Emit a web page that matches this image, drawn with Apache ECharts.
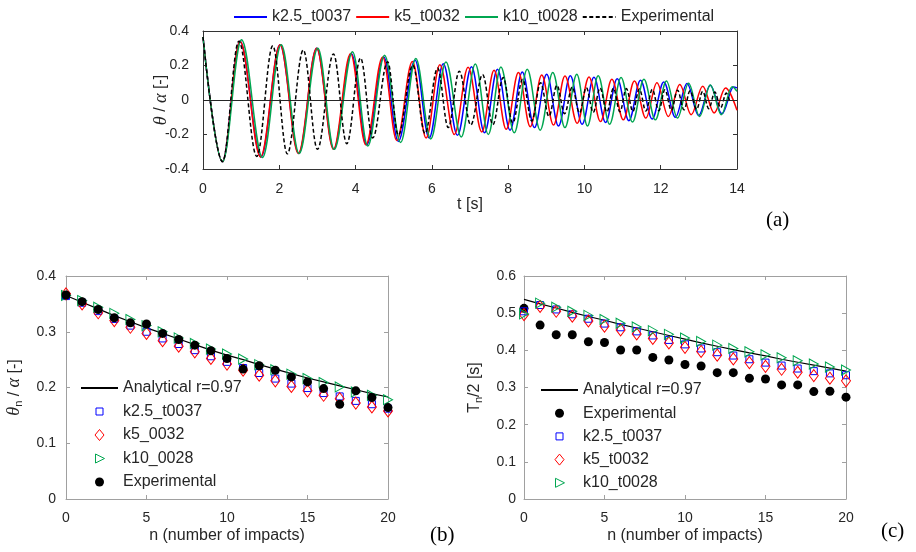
<!DOCTYPE html>
<html><head><meta charset="utf-8">
<script src="https://cdn.jsdelivr.net/npm/echarts@6/dist/echarts.min.js"></script>
<style>html,body{margin:0;padding:0;background:#fff}#c{width:916px;height:552px}</style>
</head><body><div id="c"></div>
<script>
// ---------- Panel (a): extrema read from the time histories ----------
const tTicks = [0, 14, 2];
const expT = [0,0.51,0.94,1.41,1.83,2.21,2.63,3.00,3.42,3.77,4.13,4.45,4.84,5.12,5.50,5.82,6.15,6.43,6.72,7.02,7.33,7.60,7.87,8.12,8.38,8.62,8.85,9.07,9.28,9.48,9.68,9.87,10.05,10.23,10.41,10.59,10.76,10.93,11.10,11.27,11.44,11.61,11.78,11.95,12.11,12.28,12.44,12.61,12.77,12.94,13.10,13.26,13.42,13.57,13.72,13.80];
const expV = [0.365,-0.357,0.341,-0.327,0.314,-0.312,0.29,-0.286,0.267,-0.253,0.243,-0.22,0.222,-0.204,0.202,-0.194,0.185,-0.16,0.167,-0.145,0.148,-0.143,0.13,-0.133,0.12,-0.122,0.10,-0.095,0.085,-0.08,0.075,-0.075,0.072,-0.072,0.07,-0.07,0.068,-0.068,0.066,-0.066,0.064,-0.064,0.062,-0.062,0.06,-0.06,0.057,-0.057,0.054,-0.054,0.05,-0.05,0.046,-0.045,0.04,0.0];
const k25T = [0,0.51,0.97,1.52,2.02,2.51,2.98,3.43,3.89,4.29,4.74,5.12,5.56,5.93,6.30,6.67,7.04,7.38,7.72,8.05,8.37,8.69,9.01,9.32,9.63,9.94,10.25,10.555,10.86,11.165,11.47,11.775,12.08,12.385,12.69,12.995,13.30,13.605,13.91,14.0];
const k25V = [0.365,-0.357,0.34,-0.33,0.32,-0.31,0.30,-0.285,0.27,-0.26,0.25,-0.24,0.23,-0.22,0.21,-0.205,0.193,-0.19,0.178,-0.175,0.163,-0.16,0.15,-0.15,0.14,-0.14,0.132,-0.13,0.123,-0.12,0.115,-0.11,0.105,-0.1,0.095,-0.09,0.085,-0.08,0.075,0.07];
const k5T = [0,0.51,0.97,1.51,2.02,2.50,2.98,3.42,3.87,4.27,4.71,5.08,5.49,5.85,6.21,6.59,6.95,7.31,7.63,7.95,8.27,8.58,8.88,9.19,9.49,9.81,10.12,10.42,10.72,11.02,11.31,11.61,11.90,12.20,12.50,12.80,13.10,13.40,13.70,14.0];
const k5V = [0.365,-0.357,0.34,-0.33,0.32,-0.31,0.30,-0.285,0.27,-0.26,0.25,-0.235,0.223,-0.22,0.204,-0.20,0.19,-0.185,0.172,-0.17,0.159,-0.155,0.145,-0.145,0.139,-0.135,0.133,-0.125,0.12,-0.115,0.11,-0.105,0.10,-0.095,0.09,-0.085,0.08,-0.075,0.07,-0.06];
const k10T = [0,0.51,1.01,1.56,2.05,2.52,3.01,3.44,3.92,4.32,4.76,5.18,5.58,5.97,6.37,6.77,7.14,7.48,7.81,8.16,8.50,8.84,9.17,9.49,9.80,10.08,10.36,10.66,10.96,11.26,11.56,11.86,12.15,12.44,12.73,13.02,13.30,13.59,13.87,14.0];
const k10V = [0.365,-0.357,0.35,-0.333,0.32,-0.31,0.30,-0.286,0.28,-0.267,0.26,-0.247,0.241,-0.226,0.221,-0.214,0.208,-0.2,0.192,-0.19,0.178,-0.175,0.159,-0.16,0.149,-0.15,0.14,-0.14,0.13,-0.128,0.12,-0.115,0.11,-0.105,0.097,-0.095,0.087,-0.085,0.077,0.05];

// ---------- Panels (b) and (c): values per impact n ----------
const nIdx = [0,1,2,3,4,5,6,7,8,9,10,11,12,13,14,15,16,17,18,19,20];
const bAnalytical = [0.365,0.353,0.341,0.329,0.318,0.307,0.297,0.287,0.277,0.267,0.258,0.250,0.241,0.233,0.225,0.217,0.210,0.203,0.196,0.189,0.183];
const bK25 = [0.364,0.352,0.337,0.323,0.311,0.300,0.288,0.278,0.267,0.256,0.246,0.235,0.226,0.216,0.207,0.199,0.190,0.184,0.176,0.170,0.162];
const bK5  = [0.368,0.350,0.334,0.320,0.308,0.297,0.284,0.274,0.264,0.252,0.242,0.231,0.222,0.212,0.202,0.194,0.186,0.180,0.172,0.165,0.158];
const bK10 = [0.365,0.356,0.344,0.333,0.322,0.311,0.300,0.289,0.279,0.269,0.260,0.251,0.241,0.232,0.224,0.216,0.209,0.201,0.192,0.186,0.178];
const bExp = [0.366,0.354,0.340,0.325,0.316,0.314,0.297,0.286,0.276,0.266,0.252,0.233,0.239,0.231,0.219,0.210,0.198,0.170,0.194,0.182,0.164];

const cAnalytical = [0.537,0.525,0.514,0.502,0.491,0.481,0.470,0.460,0.450,0.440,0.430,0.420,0.411,0.402,0.393,0.385,0.376,0.368,0.360,0.352,0.344];
const cExp = [0.513,0.468,0.442,0.442,0.423,0.421,0.401,0.401,0.381,0.374,0.362,0.358,0.340,0.340,0.325,0.323,0.307,0.307,0.289,0.290,0.274];
const cK25 = [0.505,0.522,0.510,0.497,0.485,0.472,0.462,0.451,0.440,0.428,0.416,0.405,0.395,0.386,0.376,0.367,0.359,0.351,0.344,0.338,0.333];
const cK5  = [0.496,0.518,0.505,0.492,0.479,0.465,0.455,0.444,0.432,0.420,0.408,0.397,0.387,0.377,0.367,0.357,0.349,0.341,0.332,0.325,0.318];
const cK10 = [0.498,0.527,0.516,0.505,0.494,0.483,0.473,0.463,0.453,0.443,0.433,0.424,0.414,0.405,0.396,0.388,0.380,0.372,0.363,0.355,0.347];

const labels = {
  a_k25:'k2.5_t0037', a_k5:'k5_t0032', a_k10:'k10_t0028', a_exp:'Experimental',
  b_an:'Analytical r=0.97', b_k25:'k2.5_t0037', b_k5:'k5_0032', b_k10:'k10_0028', b_exp:'Experimental',
  c_an:'Analytical r=0.97', c_exp:'Experimental', c_k25:'k2.5_t0037', c_k5:'k5_t0032', c_k10:'k10_t0028'
};

const FONT = '"Liberation Sans", Arial, Helvetica, sans-serif';
const SERIF = '"Liberation Serif", "Times New Roman", serif';
const BLUE = '#0000ff', RED = '#ff0000', GREEN = '#00a650', BLACK = '#000000';
const TXT = '#262626';
const zip = (a, b) => a.map((v, i) => [v, b[i]]);

// marker shapes (right-pointing triangle drawn directly)
const TRI_RIGHT = 'path://M0,0 L10,5 L0,10 Z';
// legend icons: a 37x12 frame (corner moves set the box) with the marker centred in it
const LEG = {
  rect: 'path://M0,0 M37,12 M15,2.5 L22,2.5 L22,9.5 L15,9.5 Z',
  diamond: 'path://M0,0 M37,12 M18.5,0.5 L23,6 L18.5,11.5 L14,6 Z',
  tri: 'path://M0,0 M37,12 M14.5,1.5 L23.5,6 L14.5,10.5 Z',
  circle: 'path://M0,0 M37,12 M14,6 A4.5,4.5 0 1 1 23,6 A4.5,4.5 0 1 1 14,6 Z'
};

function valAxis(o) {
  const c = o.color;
  return {
    type: 'value', gridIndex: o.grid, position: o.pos, min: o.min, max: o.max, interval: o.interval,
    axisLine: { show: true, onZero: false, lineStyle: { color: c, width: 1 } },
    axisTick: { show: true, inside: true, length: 4, lineStyle: { color: c, width: 1 } },
    axisLabel: { show: !o.mirror, margin: o.margin || 10, fontSize: 14, color: TXT, fontFamily: FONT, showMinLabel: true, showMaxLabel: true },
    splitLine: { show: false },
    name: o.name || '', nameLocation: 'middle', nameGap: o.nameGap || 0, nameRotate: o.nameRotate,
    nameMoveOverlap: false,
    nameTextStyle: Object.assign({ fontSize: 16, color: TXT, fontFamily: FONT }, o.nameStyle || {}),
    silent: true
  };
}

const nameRich = {
  it: { fontStyle: 'italic', fontFamily: SERIF, fontSize: 18, color: TXT },
  n: { fontFamily: FONT, fontSize: 16, color: TXT },
  sub: { fontFamily: FONT, fontSize: 11, color: TXT, padding: [8, 0, 0, 0] }
};

const topAxis = '#333333', botAxis = '#a0a0a0';

const xAxes = [
  valAxis({ grid: 0, pos: 'bottom', min: tTicks[0], max: tTicks[1], interval: tTicks[2], color: topAxis, margin: 13, name: 't [s]', nameGap: 28 }),
  valAxis({ grid: 0, pos: 'top', min: tTicks[0], max: tTicks[1], interval: tTicks[2], color: topAxis, mirror: true }),
  valAxis({ grid: 1, pos: 'bottom', min: 0, max: 20, interval: 5, color: botAxis, margin: 12, name: 'n (number of impacts)', nameGap: 29 }),
  valAxis({ grid: 1, pos: 'top', min: 0, max: 20, interval: 5, color: botAxis, mirror: true }),
  valAxis({ grid: 2, pos: 'bottom', min: 0, max: 20, interval: 5, color: botAxis, margin: 12, name: 'n (number of impacts)', nameGap: 29 }),
  valAxis({ grid: 2, pos: 'top', min: 0, max: 20, interval: 5, color: botAxis, mirror: true })
];
const yAxes = [
  valAxis({ grid: 0, pos: 'left', min: -0.4, max: 0.4, interval: 0.2, color: topAxis, margin: 14,
    name: '{it|θ}{n| / }{it|α}{n| [-]}', nameGap: 33, nameRotate: 90, nameStyle: { rich: nameRich } }),
  valAxis({ grid: 0, pos: 'right', min: -0.4, max: 0.4, interval: 0.2, color: topAxis, mirror: true }),
  valAxis({ grid: 1, pos: 'left', min: 0, max: 0.4, interval: 0.1, color: botAxis, margin: 10,
    name: '{it|θ}{sub|n}{n| / }{it|α}{n| [-]}', nameGap: 42, nameRotate: 90, nameStyle: { rich: nameRich } }),
  valAxis({ grid: 1, pos: 'right', min: 0, max: 0.4, interval: 0.1, color: botAxis, mirror: true }),
  valAxis({ grid: 2, pos: 'left', min: 0, max: 0.6, interval: 0.1, color: botAxis, margin: 8,
    name: '{n|T}{sub|n}{n|/2 [s]}', nameGap: 40, nameRotate: 90, nameStyle: { rich: nameRich } }),
  valAxis({ grid: 2, pos: 'right', min: 0, max: 0.6, interval: 0.1, color: botAxis, mirror: true })
];

function wave(name, T, V, color, dashed) {
  return {
    name, type: 'line', xAxisIndex: 0, yAxisIndex: 0, data: zip(T, V),
    symbol: 'none', showSymbol: false, smooth: 0.36, smoothMonotone: 'x',
    lineStyle: { color, width: 1.5, type: dashed ? [4, 2.5] : 'solid' }, itemStyle: { color },
    silent: true, z: 3
  };
}
function scatter(name, g, vals, symbol, size, color, filled) {
  return {
    name, type: 'scatter', xAxisIndex: g * 2, yAxisIndex: g * 2, data: zip(nIdx, vals),
    symbol, symbolSize: size,
    itemStyle: filled ? { color, opacity: 1 } : { color: 'rgba(255,255,255,0)', borderColor: color, borderWidth: 1, opacity: 1 },
    silent: true, z: 4
  };
}
function analytic(name, g, vals) {
  return {
    name, type: 'line', xAxisIndex: g * 2, yAxisIndex: g * 2, data: zip(nIdx, vals),
    symbol: 'none', showSymbol: false, lineStyle: { color: BLACK, width: 1.2 }, itemStyle: { color: BLACK },
    silent: true, z: 3
  };
}

const zeroLine = wave('a_k25', k25T, k25V, BLUE, false);
zeroLine.markLine = { silent: true, symbol: ['none', 'none'], label: { show: false },
  lineStyle: { color: '#262626', width: 1, type: 'solid' }, data: [{ yAxis: 0 }], animation: false };

const series = [
  zeroLine,
  wave('a_k5', k5T, k5V, RED, false),
  wave('a_k10', k10T, k10V, GREEN, false),
  wave('a_exp', expT, expV, BLACK, true),
  analytic('b_an', 1, bAnalytical),
  scatter('b_k25', 1, bK25, 'rect', 7, BLUE, false),
  scatter('b_k5', 1, bK5, 'diamond', [9, 12], RED, false),
  scatter('b_k10', 1, bK10, TRI_RIGHT, [9, 10], GREEN, false),
  scatter('b_exp', 1, bExp, 'circle', 9, BLACK, true),
  analytic('c_an', 2, cAnalytical),
  scatter('c_exp', 2, cExp, 'circle', 9, BLACK, true),
  scatter('c_k25', 2, cK25, 'rect', 7, BLUE, false),
  scatter('c_k5', 2, cK5, 'diamond', [9, 12], RED, false),
  scatter('c_k10', 2, cK10, TRI_RIGHT, [9, 10], GREEN, false)
];

// legend entry helpers: line-only icons hide the marker; marker icons keep their shape
const lineItem = n => ({ name: n, itemStyle: { opacity: 0, color: 'rgba(0,0,0,0)', borderWidth: 0 } });
const mark = (n, icon, color, filled) => ({
  name: n, icon,
  itemStyle: filled ? { color, opacity: 1, borderWidth: 0 } : { color: 'rgba(255,255,255,0)', borderColor: color, borderWidth: 1, opacity: 1 }
});

function legend(left, top, data, w, gap, orient, h) {
  return {
    orient, left, top, itemWidth: w, itemHeight: h, itemGap: gap, selectedMode: false,
    data, formatter: n => labels[n],
    textStyle: { fontSize: 16, color: TXT, fontFamily: FONT },
    padding: 0
  };
}

const chart = echarts.init(document.getElementById('c'), null, { renderer: 'canvas' });
chart.setOption({
  animation: false,
  backgroundColor: '#ffffff',
  textStyle: { fontFamily: FONT },
  grid: [
    { left: 203, top: 31, width: 534, height: 138, containLabel: false, outerBoundsMode: 'none' },
    { left: 66, top: 276, width: 322, height: 223, containLabel: false, outerBoundsMode: 'none' },
    { left: 524, top: 276, width: 322, height: 223, containLabel: false, outerBoundsMode: 'none' }
  ],
  xAxis: xAxes,
  yAxis: yAxes,
  legend: [
    legend(233, 9, ['a_k25', 'a_k5', 'a_k10', 'a_exp'].map(lineItem), 33, 4, 'horizontal', 10),
    legend(80, 380, [lineItem('b_an'), mark('b_k25', LEG.rect, BLUE), mark('b_k5', LEG.diamond, RED),
      mark('b_k10', LEG.tri, GREEN), mark('b_exp', LEG.circle, BLACK, true)], 37, 7.5, 'vertical', 12),
    legend(540, 382, [lineItem('c_an'), mark('c_exp', LEG.circle, BLACK, true), mark('c_k25', LEG.rect, BLUE),
      mark('c_k5', LEG.diamond, RED), mark('c_k10', LEG.tri, GREEN)], 37, 7.2, 'vertical', 12)
  ],
  graphic: [
    { type: 'text', left: 766, top: 210, style: { text: '(a)', font: '21px ' + SERIF, fill: '#000' } },
    { type: 'text', left: 430, top: 525, style: { text: '(b)', font: '21px ' + SERIF, fill: '#000' } },
    { type: 'text', left: 881, top: 521, style: { text: '(c)', font: '21px ' + SERIF, fill: '#000' } }
  ],
  series
});
</script></body></html>
